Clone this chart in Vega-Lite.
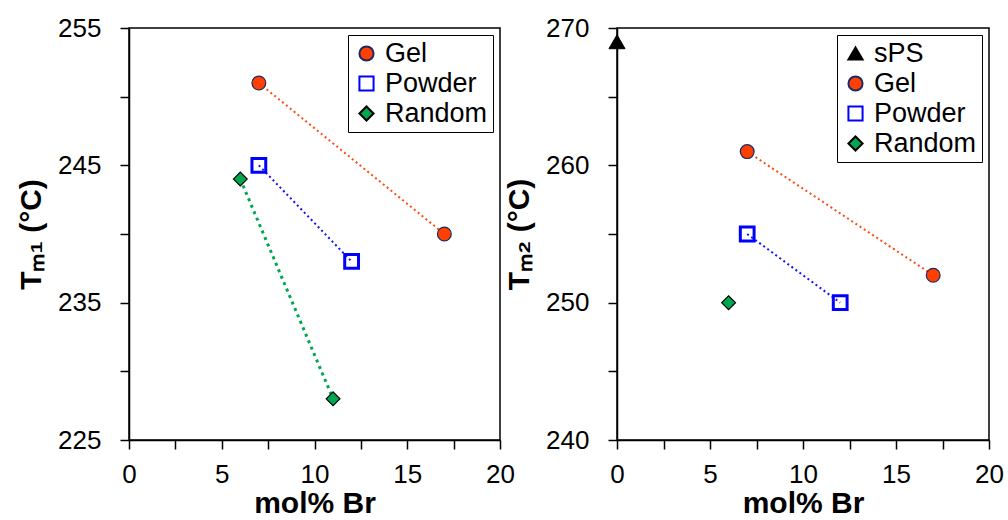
{
  "$schema": "https://vega.github.io/schema/vega-lite/v6.json",
  "background": "white",
  "padding": {"left": 15, "top": 14, "right": 0, "bottom": 0},
  "bounds": "flush",
  "config": {
    "font": "Liberation Sans",
    "view": {"stroke": "black", "strokeWidth": 1.5},
    "concat": {"spacing": 117},
    "axis": {
      "grid": false,
      "domainColor": "black",
      "domainWidth": 1.5,
      "tickColor": "black",
      "tickWidth": 1.5,
      "tickSize": 9,
      "labelFont": "Liberation Sans",
      "labelFontSize": 26,
      "labelColor": "black",
      "labelFlush": false,
      "labelOverlap": false,
      "titleFont": "Liberation Sans",
      "titleFontSize": 30,
      "titleFontWeight": "bold",
      "titleColor": "black"
    },
    "axisX": {"labelPadding": 12, "titlePadding": 1},
    "axisY": {"labelPadding": 19, "titlePadding": 11},
    "legend": {
      "orient": "top-right",
      "offset": 7,
      "strokeColor": "black",
      "fillColor": "white",
      "padding": 5,
      "labelFont": "Liberation Sans",
      "labelFontSize": 27,
      "labelColor": "black",
      "labelOffset": 5,
      "symbolSize": 200,
      "symbolStrokeWidth": 2,
      "rowPadding": 2
    }
  },
  "datasets": {
    "pts": [
      {"panel": "Tm1", "series": "Gel", "molBr": 7, "T": 251},
      {"panel": "Tm1", "series": "Gel", "molBr": 17, "T": 240},
      {"panel": "Tm1", "series": "Powder", "molBr": 7, "T": 245},
      {"panel": "Tm1", "series": "Powder", "molBr": 12, "T": 238},
      {"panel": "Tm1", "series": "Random", "molBr": 6, "T": 244},
      {"panel": "Tm1", "series": "Random", "molBr": 11, "T": 228},
      {"panel": "Tm2", "series": "sPS", "molBr": 0, "T": 269},
      {"panel": "Tm2", "series": "Gel", "molBr": 7, "T": 261},
      {"panel": "Tm2", "series": "Gel", "molBr": 17, "T": 252},
      {"panel": "Tm2", "series": "Powder", "molBr": 7, "T": 255},
      {"panel": "Tm2", "series": "Powder", "molBr": 12, "T": 250},
      {"panel": "Tm2", "series": "Random", "molBr": 6, "T": 250}
    ]
  },
  "hconcat": [
    {
      "width": 371,
      "height": 412,
      "data": {"name": "pts"},
      "transform": [{"filter": "datum.panel == 'Tm1'"}],
      "encoding": {
        "x": {
          "field": "molBr", "type": "quantitative",
          "scale": {"domain": [0, 20], "nice": false, "zero": false},
          "axis": {"title": "mol% Br", "values": [0, 2.5, 5, 7.5, 10, 12.5, 15, 17.5, 20],
                   "labelExpr": "datum.value % 5 == 0 ? datum.label : ''"}
        },
        "y": {
          "field": "T", "type": "quantitative",
          "scale": {"domain": [225, 255], "nice": false, "zero": false},
          "axis": {"title": "Tₘ₁ (°C)", "values": [225, 230, 235, 240, 245, 250, 255],
                   "labelExpr": "datum.value % 10 == 5 ? datum.label : ''"}
        }
      },
      "layer": [
        {
          "transform": [{"filter": "datum.series == 'Gel'"}],
          "mark": {"type": "line", "color": "#FF4A10", "strokeWidth": 2, "strokeDash": [2, 3]},
          "encoding": {}
        },
        {
          "transform": [{"filter": "datum.series == 'Powder'"}],
          "mark": {"type": "line", "color": "#1010FF", "strokeWidth": 2, "strokeDash": [2, 3]},
          "encoding": {}
        },
        {
          "transform": [{"filter": "datum.series == 'Random'"}],
          "mark": {"type": "line", "color": "#00A650", "strokeWidth": 3, "strokeDash": [3, 4]},
          "encoding": {}
        },
        {
          "transform": [{"filter": "datum.series != 'Powder'"}],
          "mark": {"type": "point", "opacity": 1, "size": 190, "strokeWidth": 1.2},
          "encoding": {
            "shape": {"field": "series", "type": "nominal", "title": null,
                      "scale": {"domain": ["Gel", "Powder", "Random"], "range": ["circle", "square", "diamond"]}},
            "fill": {"field": "series", "type": "nominal", "title": null,
                     "scale": {"domain": ["Gel", "Powder", "Random"], "range": ["#FF4000", "transparent", "#00A650"]}},
            "stroke": {"field": "series", "type": "nominal", "title": null,
                       "scale": {"domain": ["Gel", "Powder", "Random"], "range": ["#1A2A66", "#0000FF", "#000000"]}}
          }
        },
        {
          "transform": [{"filter": "datum.series == 'Powder'"}],
          "mark": {"type": "point", "opacity": 1, "size": 190, "strokeWidth": 3},
          "encoding": {
            "shape": {"field": "series", "type": "nominal", "title": null,
                      "scale": {"domain": ["Gel", "Powder", "Random"], "range": ["circle", "square", "diamond"]}},
            "fill": {"field": "series", "type": "nominal", "title": null,
                     "scale": {"domain": ["Gel", "Powder", "Random"], "range": ["#FF4000", "transparent", "#00A650"]}},
            "stroke": {"field": "series", "type": "nominal", "title": null,
                       "scale": {"domain": ["Gel", "Powder", "Random"], "range": ["#1A2A66", "#0000FF", "#000000"]}}
          }
        }
      ]
    },
    {
      "width": 372,
      "height": 412,
      "data": {"name": "pts"},
      "transform": [{"filter": "datum.panel == 'Tm2'"}],
      "encoding": {
        "x": {
          "field": "molBr", "type": "quantitative",
          "scale": {"domain": [0, 20], "nice": false, "zero": false},
          "axis": {"title": "mol% Br", "values": [0, 2.5, 5, 7.5, 10, 12.5, 15, 17.5, 20],
                   "labelExpr": "datum.value % 5 == 0 ? datum.label : ''"}
        },
        "y": {
          "field": "T", "type": "quantitative",
          "scale": {"domain": [240, 270], "nice": false, "zero": false},
          "axis": {"title": "Tₘ₂ (°C)", "values": [240, 245, 250, 255, 260, 265, 270],
                   "labelExpr": "datum.value % 10 == 0 ? datum.label : ''"}
        }
      },
      "layer": [
        {
          "transform": [{"filter": "datum.series == 'Gel'"}],
          "mark": {"type": "line", "color": "#FF4A10", "strokeWidth": 2, "strokeDash": [2, 3]},
          "encoding": {}
        },
        {
          "transform": [{"filter": "datum.series == 'Powder'"}],
          "mark": {"type": "line", "color": "#1010FF", "strokeWidth": 2, "strokeDash": [2, 3]},
          "encoding": {}
        },
        {
          "transform": [{"filter": "datum.series == 'Gel' || datum.series == 'Random'"}],
          "mark": {"type": "point", "opacity": 1, "size": 190, "strokeWidth": 1.2},
          "encoding": {
            "shape": {"field": "series", "type": "nominal", "title": null,
                      "scale": {"domain": ["sPS", "Gel", "Powder", "Random"], "range": ["triangle-up", "circle", "square", "diamond"]}},
            "fill": {"field": "series", "type": "nominal", "title": null,
                     "scale": {"domain": ["sPS", "Gel", "Powder", "Random"], "range": ["#000000", "#FF4000", "transparent", "#00A650"]}},
            "stroke": {"field": "series", "type": "nominal", "title": null,
                       "scale": {"domain": ["sPS", "Gel", "Powder", "Random"], "range": ["#000000", "#1A2A66", "#0000FF", "#000000"]}}
          }
        },
        {
          "transform": [{"filter": "datum.series == 'sPS'"}],
          "mark": {"type": "point", "opacity": 1, "size": 260, "strokeWidth": 1},
          "encoding": {
            "shape": {"field": "series", "type": "nominal", "title": null,
                      "scale": {"domain": ["sPS", "Gel", "Powder", "Random"], "range": ["triangle-up", "circle", "square", "diamond"]}},
            "fill": {"field": "series", "type": "nominal", "title": null,
                     "scale": {"domain": ["sPS", "Gel", "Powder", "Random"], "range": ["#000000", "#FF4000", "transparent", "#00A650"]}},
            "stroke": {"field": "series", "type": "nominal", "title": null,
                       "scale": {"domain": ["sPS", "Gel", "Powder", "Random"], "range": ["#000000", "#1A2A66", "#0000FF", "#000000"]}}
          }
        },
        {
          "transform": [{"filter": "datum.series == 'Powder'"}],
          "mark": {"type": "point", "opacity": 1, "size": 190, "strokeWidth": 3},
          "encoding": {
            "shape": {"field": "series", "type": "nominal", "title": null,
                      "scale": {"domain": ["sPS", "Gel", "Powder", "Random"], "range": ["triangle-up", "circle", "square", "diamond"]}},
            "fill": {"field": "series", "type": "nominal", "title": null,
                     "scale": {"domain": ["sPS", "Gel", "Powder", "Random"], "range": ["#000000", "#FF4000", "transparent", "#00A650"]}},
            "stroke": {"field": "series", "type": "nominal", "title": null,
                       "scale": {"domain": ["sPS", "Gel", "Powder", "Random"], "range": ["#000000", "#1A2A66", "#0000FF", "#000000"]}}
          }
        }
      ]
    }
  ],
  "resolve": {
    "scale": {"x": "independent", "y": "independent", "shape": "independent",
              "fill": "independent", "stroke": "independent"},
    "legend": {"shape": "independent", "fill": "independent", "stroke": "independent"}
  }
}
